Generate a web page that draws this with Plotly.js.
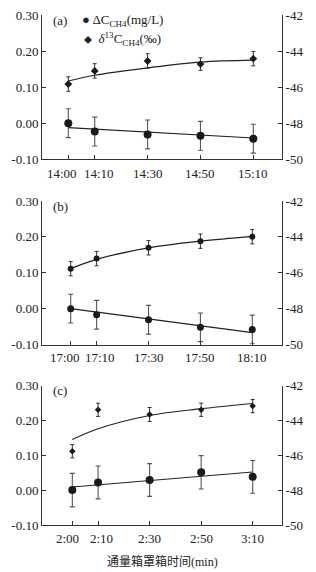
<!DOCTYPE html>
<html>
<head>
<meta charset="utf-8">
<script src="https://cdn.plot.ly/plotly-3.0.1.min.js"></script>
<style>html,body{margin:0;padding:0;background:#fff;}#chart{width:316px;height:572px;}</style>
</head>
<body>
<div id="chart"></div>
<script>
// ---- data (minutes after start of chamber closure) ----
const minutes = [0, 10, 30, 50, 70];
const fitEnds = [0, 70];

const labelsA = ['14:00', '14:10', '14:30', '14:50', '15:10'];
const labelsB = ['17:00', '17:10', '17:30', '17:50', '18:10'];
const labelsC = ['2:00', '2:10', '2:30', '2:50', '3:10'];

// ΔC_CH4 (mg/L), left axis
const dcA = [0.000, -0.023, -0.031, -0.035, -0.043];
const dcErrA = [0.040, 0.040, 0.040, 0.040, 0.040];
const dcFitA = [-0.012, -0.041];

const dcB = [0.000, -0.017, -0.031, -0.052, -0.058];
const dcErrB = [0.040, 0.040, 0.040, 0.040, 0.040];
const dcFitB = [0.000, -0.067];

const dcC = [0.000, 0.022, 0.029, 0.051, 0.038];
const dcErrC = [0.048, 0.047, 0.047, 0.048, 0.047];
const dcFitC = [0.009, 0.052];

// δ13C_CH4 (‰), right axis
const d13A = [-45.83, -45.10, -44.55, -44.72, -44.42];
const d13ErrA = [0.40, 0.40, 0.40, 0.35, 0.40];
const d13FitA = [-45.66, -45.34, -44.93, -44.61, -44.50];

const d13B = [-45.77, -45.21, -44.61, -44.24, -43.99];
const d13ErrB = [0.40, 0.40, 0.40, 0.40, 0.40];
const d13FitB = [-45.77, -45.25, -44.61, -44.24, -43.97];

const d13C = [-45.77, -43.39, -43.66, -43.39, -43.18];
const d13ErrC = [0.38, 0.38, 0.40, 0.38, 0.38];
const d13FitC = [-45.10, -44.48, -43.72, -43.33, -43.03];

const leftTicks = [-0.1, 0, 0.1, 0.2, 0.3];
const leftTickText = ['-0.10', '0.00', '0.10', '0.20', '0.30'];
const rightTicks = [-50, -48, -46, -44, -42];
const rightTickText = ['-50', '-48', '-46', '-44', '-42'];

const panelLabels = ['(a)', '(b)', '(c)'];
const legendDC = '<span style="font-size:13px">\u25CF</span> \u0394C<sub>CH4</sub>(mg/L)';
const legendD13 = '<span style="font-size:8px">\u25C6</span>  <i>\u03B4</i><sup>13</sup>C<sub>CH4</sub>(\u2030)';
const xTitle = '通量箱罩箱时间(min)';

// ---- build ----
const ink = '#222';
const serif = 'Liberation Serif, "Noto Sans CJK SC", serif';
const panels = [
  {lab: labelsA, dc: dcA, dcE: dcErrA, dcF: dcFitA, d: d13A, dE: d13ErrA, dF: d13FitA,
   dom: [0.7215, 0.9738], xr: [-9.95, 80.85], dcSize: 8, dSym: 'diamond', dSize: 6,
   labShift: [-6, 4, 0, 0, 0], labY: -14},
  {lab: labelsB, dc: dcB, dcE: dcErrB, dcF: dcFitB, d: d13B, dE: d13ErrB, dF: d13FitB,
   dom: [0.3977, 0.6486], xr: [-11.06, 81.45], dcSize: 7, dSym: 'circle', dSize: 6,
   labShift: [-5.5, 3.7, 0, 0, 0], labY: -12.5},
  {lab: labelsC, dc: dcC, dcE: dcErrC, dcF: dcFitC, d: d13C, dE: d13ErrC, dF: d13FitC,
   dom: [0.0822, 0.3260], xr: [-11.76, 81.37], dcSize: 8, dSym: 'diamond', dSize: 5,
   labShift: [-5, 3.8, 0, 0, 0], labY: -13.3}
];

const traces = [];
const layout = {
  width: 316, height: 572,
  margin: {l: 42, r: 34, t: 0, b: 0},
  paper_bgcolor: '#fff', plot_bgcolor: '#fff',
  showlegend: false,
  font: {family: serif, size: 13, color: ink},
  annotations: []
};

panels.forEach((p, i) => {
  const n = i + 1;
  const xa = n === 1 ? 'x' : 'x' + n;
  const yl = 'y' + (2 * n - 1 === 1 ? '' : (2 * n - 1));
  const yr = 'y' + (2 * n);
  const xKey = n === 1 ? 'xaxis' : 'xaxis' + n;
  const ylKey = 2 * n - 1 === 1 ? 'yaxis' : 'yaxis' + (2 * n - 1);
  const yrKey = 'yaxis' + (2 * n);

  layout[xKey] = {
    domain: [0, 1], anchor: yl, range: p.xr,
    tickvals: minutes, showticklabels: false,
    ticks: 'inside', ticklen: 4, tickcolor: '#333',
    showline: true, linecolor: '#333', linewidth: 1,
    showgrid: false, zeroline: false, fixedrange: true
  };
  layout[ylKey] = {
    domain: p.dom, anchor: xa, range: [-0.1, 0.3],
    tickvals: leftTicks, ticktext: leftTickText,
    ticks: 'inside', ticklen: 4, tickcolor: '#333',
    showline: true, linecolor: '#333', linewidth: 1,
    showgrid: false, zeroline: false, fixedrange: true,
    tickfont: {size: 13, color: ink}
  };
  layout[yrKey] = {
    domain: p.dom, anchor: xa, overlaying: yl, side: 'right', range: [-50, -42],
    tickvals: rightTicks, ticktext: rightTickText,
    ticks: 'inside', ticklen: 4, tickcolor: '#333',
    showline: true, linecolor: '#333', linewidth: 1,
    showgrid: false, zeroline: false, fixedrange: true,
    tickfont: {size: 13, color: ink}
  };

  // fit lines
  traces.push({x: fitEnds, y: p.dcF, xaxis: xa, yaxis: yl, mode: 'lines',
    line: {color: '#222', width: 1.2}, hoverinfo: 'skip'});
  traces.push({x: minutes, y: p.dF, xaxis: xa, yaxis: yr, mode: 'lines',
    line: {color: '#222', width: 1.2, shape: 'spline', smoothing: 1}, hoverinfo: 'skip'});
  // points with error bars
  traces.push({x: minutes, y: p.dc, xaxis: xa, yaxis: yl, mode: 'markers',
    marker: {symbol: 'circle', size: p.dcSize, color: '#1a1a1a'},
    error_y: {type: 'data', array: p.dcE, visible: true, color: '#555', thickness: 1.1, width: 2.5}});
  traces.push({x: minutes, y: p.d, xaxis: xa, yaxis: yr, mode: 'markers',
    marker: {symbol: p.dSym, size: p.dSize, color: '#1a1a1a'},
    error_y: {type: 'data', array: p.dE, visible: true, color: '#333', thickness: 1, width: 2}});

  // x tick labels (nudged apart where the first two crowd, as in the original)
  p.lab.forEach((t, j) => {
    layout.annotations.push({text: t, xref: xa, yref: yl + ' domain',
      x: minutes[j], y: 0, xanchor: 'center', yanchor: 'middle',
      xshift: p.labShift[j], yshift: p.labY, showarrow: false,
      font: {size: 13, color: ink}});
  });

  layout.annotations.push({text: panelLabels[i], xref: xa + ' domain', yref: yl + ' domain',
    x: 0.038, y: 0.962, xanchor: 'left', yanchor: 'middle', showarrow: false,
    font: {size: 13, color: ink}});
});

layout.annotations.push({text: legendDC, xref: 'x domain', yref: 'y domain',
  x: 0.158, y: 0.965, xanchor: 'left', yanchor: 'middle', showarrow: false,
  font: {size: 13, color: ink}});
layout.annotations.push({text: legendD13, xref: 'x domain', yref: 'y domain',
  x: 0.165, y: 0.834, xanchor: 'left', yanchor: 'middle', showarrow: false,
  font: {size: 13, color: ink}});
layout.annotations.push({text: xTitle, xref: 'x3 domain', yref: 'y5 domain',
  x: 0.5, y: 0, xanchor: 'center', yanchor: 'middle', yshift: -36.5, showarrow: false,
  font: {size: 12, color: ink, family: serif}});

Plotly.newPlot('chart', traces, layout, {staticPlot: true, displayModeBar: false});
</script>
</body>
</html>
